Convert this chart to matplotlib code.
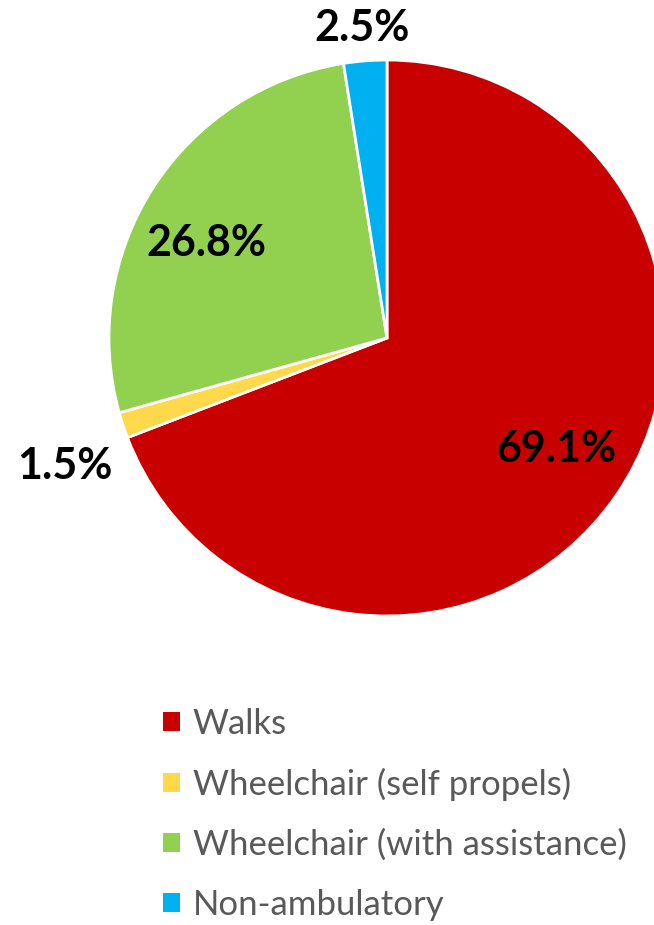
import matplotlib.pyplot as plt
from matplotlib.patches import Patch

labels = ["Walks", "Wheelchair (self propels)", "Wheelchair (with assistance)", "Non-ambulatory"]
values = [69.1, 1.5, 26.8, 2.5]
colors = ["#C80000", "#FFD84B", "#92D050", "#00B0F0"]

# label positions (data units, radius = 1)
lab_pos = [(0.61, -0.40), (-1.16, -0.46), (-0.65, 0.34), (-0.09, 1.115)]

plt.rcParams['font.family'] = ['Lato', 'DejaVu Sans']

fig = plt.figure(figsize=(6.54, 9.25), dpi=100)
ax = fig.add_axes([109/654, 1 - 616/925, 556/654, 556/925])
wedges, _ = ax.pie(values, colors=colors, startangle=90, counterclock=False,
                   radius=1.0, wedgeprops=dict(edgecolor="white", linewidth=2.0))
ax.set_xlim(-1, 1)
ax.set_ylim(-1, 1)
ax.set_aspect("equal")
ax.axis("off")

for v, (x, y) in zip(values, lab_pos):
    ax.text(x, y, f"{v:.1f}%", ha="center", va="center", fontsize=31,
            fontweight="bold", color="black", clip_on=False)

handles = [Patch(facecolor=c, edgecolor="none") for c in colors]
leg = fig.legend(handles, labels, loc="upper left",
                 bbox_to_anchor=(163/654, 1 - 708/925), frameon=False,
                 fontsize=25, handlelength=0.49, handleheight=0.49,
                 handletextpad=0.37, labelspacing=0.8, borderpad=0, borderaxespad=0)
for t in leg.get_texts():
    t.set_color("#595959")

fig.savefig("out.png", dpi=100)
